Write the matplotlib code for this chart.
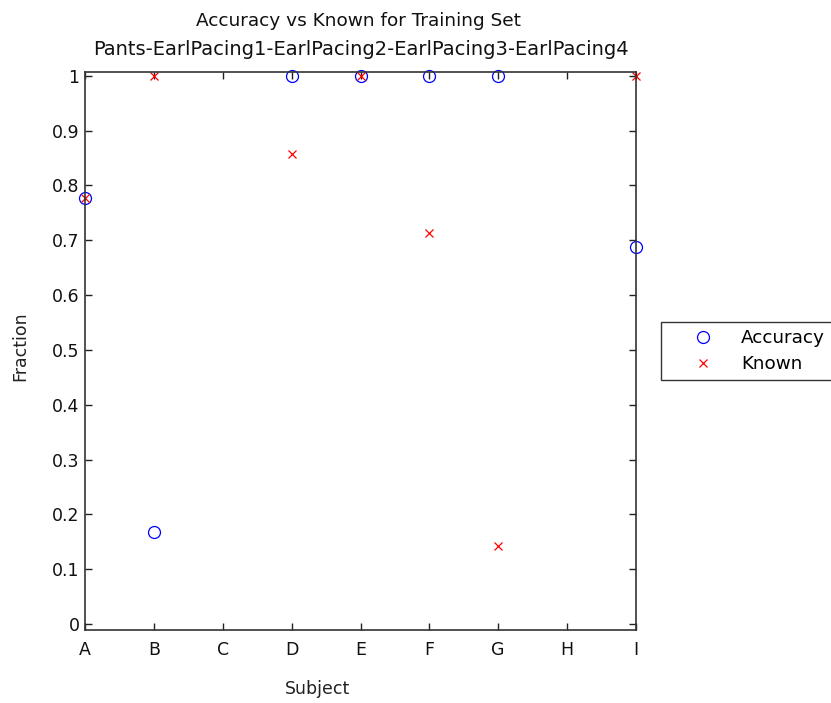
import matplotlib
matplotlib.use("Agg")
import matplotlib.pyplot as plt
import numpy as np

plt.rcParams['font.family'] = ['DejaVu Sans']

subjects = ["A", "B", "C", "D", "E", "F", "G", "H", "I"]
accuracy = [0.778, 0.167, np.nan, 1.0, 1.0, 1.0, 1.0, np.nan, 0.6875]
known = [0.778, 1.0, np.nan, 0.857, 1.0, 0.714, 0.143, np.nan, 1.0]
yticks = [0, 0.1, 0.2, 0.3, 0.4, 0.5, 0.6, 0.7, 0.8, 0.9, 1]
yticklabels = ["0", "0.1", "0.2", "0.3", "0.4", "0.5", "0.6", "0.7", "0.8", "0.9", "1"]

W, H = 831, 703
fig = plt.figure(figsize=(W / 100, H / 100), dpi=100)
ax = fig.add_axes([85 / W, 1 - 630 / H, (636 - 85) / W, (630 - 72) / H])
x = np.arange(1, len(subjects) + 1)
ax.plot(x, accuracy, linestyle='none', marker='o', markersize=8.6, markerfacecolor='none',
        markeredgecolor='#0000ff', markeredgewidth=0.9, label='Accuracy', clip_on=False)
ax.plot(x, known, linestyle='none', marker='x', markersize=5.8, color='#ff0000',
        markeredgewidth=0.9, label='Known', clip_on=False)

ax.set_xlim(1, 9)
ax.set_ylim(-0.011, 1.007)
ax.set_xticks(x)
ax.set_xticklabels(subjects)
ax.set_yticks(yticks)
ax.set_yticklabels(yticklabels)
ax.tick_params(direction='in', top=True, right=True, length=5, width=1.0,
               labelsize=12.5, colors='#222222', labelcolor='#111111')
ax.tick_params(axis='x', pad=8)
ax.tick_params(axis='y', pad=4)
for s in ax.spines.values():
    s.set_linewidth(1.2)
    s.set_color('#333333')

fig.text(317 / W, 1 - 694 / H, 'Subject', ha='center', va='baseline', fontsize=12.5, color='#222222')
fig.text(20 / W, 1 - 346 / H, 'Fraction', ha='center', va='center', rotation=90,
         fontsize=12.5, color='#222222')
fig.text(359 / W, 1 - 26 / H, 'Accuracy vs Known for Training Set', ha='center', va='baseline',
         fontsize=13.3, color='#111111')
fig.text(361 / W, 1 - 55 / H, 'Pants-EarlPacing1-EarlPacing2-EarlPacing3-EarlPacing4',
         ha='center', va='baseline', fontsize=14, color='#111111')

leg = fig.legend(loc='upper left', bbox_to_anchor=(661 / W, 1 - 322 / H),
                 fontsize=13.2, frameon=True, fancybox=False, edgecolor='black',
                 borderaxespad=0, handletextpad=0.2, borderpad=0.38, labelspacing=0.45,
                 handlelength=3.8)
leg.get_frame().set_linewidth(1.0)

fig.savefig('out.png', dpi=100)
